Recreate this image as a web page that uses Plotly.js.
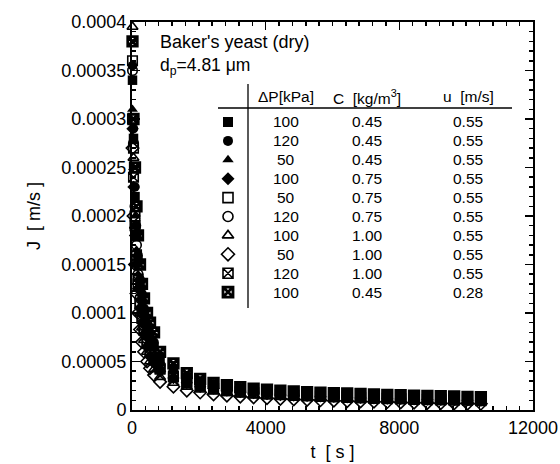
<!DOCTYPE html>
<html>
<head>
<meta charset="utf-8">
<script src="https://cdn.plot.ly/plotly-3.0.1.min.js"></script>
<style>html,body{margin:0;padding:0;background:#fff;}#chart{width:560px;height:464px;}</style>
</head>
<body>
<div id="chart"></div>
<script>
// time points [s]
const tEarly = [15, 45, 90, 135, 180, 240, 300, 360, 450, 540, 660];
const tLate = [840, 1240, 1640, 2040, 2440, 2840, 3240, 3640, 4040, 4440, 4840, 5240, 5640, 6040, 6440, 6840, 7240, 7640, 8040, 8440, 8840, 9240, 9640, 10040, 10440];

// flux values in units of 1e-5 m/s
const s1Early = [34, 28, 22, 18, 15.5, 13, 11.5, 10, 8.5, 7.5, 6.5];
const s1Late = [5.2, 4.2, 3.4, 2.9, 2.6, 2.4, 2.2, 2.1, 2.0, 1.9, 1.8, 1.75, 1.7, 1.65, 1.6, 1.55, 1.5, 1.45, 1.42, 1.4, 1.37, 1.34, 1.3, 1.28, 1.25];
const s2Early = [35.5, 29, 23, 19, 16, 13.5, 12, 10.5, 9, 8, 7];
const s2Late = [5.6, 4.4, 3.5, 3.0, 2.7, 2.5, 2.3, 2.2, 2.1, 2.0, 1.9, 1.85, 1.8, 1.75, 1.7, 1.65, 1.6, 1.55, 1.5, 1.48, 1.45, 1.42, 1.4, 1.37, 1.35];
const s3Early = [31, 25, 20, 16.5, 14, 12, 10.5, 9, 7.5, 6.5, 5.5];
const s3Late = [4.5, 3.6, 3.0, 2.6, 2.3, 2.1, 1.95, 1.85, 1.75, 1.65, 1.6, 1.55, 1.5, 1.45, 1.4, 1.35, 1.3, 1.27, 1.24, 1.2, 1.17, 1.14, 1.12, 1.1, 1.08];
const s4Early = [29, 23, 18, 15, 12.5, 10.5, 9, 7.8, 6.5, 5.5, 4.8];
const s4Late = [4.0, 3.3, 2.8, 2.4, 2.2, 2.0, 1.85, 1.75, 1.65, 1.55, 1.5, 1.45, 1.4, 1.35, 1.3, 1.25, 1.2, 1.17, 1.14, 1.1, 1.07, 1.04, 1.02, 1.0, 0.98];
const s5Early = [36, 27, 20, 16, 13.5, 11, 9.5, 8.2, 7, 6, 5.2];
const s5Late = [4.2, 3.4, 2.8, 2.45, 2.2, 2.0, 1.85, 1.75, 1.65, 1.57, 1.5, 1.45, 1.4, 1.35, 1.3, 1.25, 1.2, 1.17, 1.14, 1.1, 1.07, 1.04, 1.02, 1.0, 0.97];
const s6Early = [35, 27.5, 21, 17, 14, 11.5, 10, 8.7, 7.3, 6.3, 5.5];
const s6Late = [4.6, 3.7, 3.0, 2.6, 2.35, 2.15, 2.0, 1.9, 1.8, 1.7, 1.63, 1.57, 1.52, 1.47, 1.42, 1.37, 1.33, 1.29, 1.26, 1.22, 1.19, 1.16, 1.14, 1.12, 1.1];
const s7Early = [39.5, 26, 19, 15, 12.5, 10, 8.5, 7.2, 6, 5, 4.2];
const s7Late = [3.4, 2.8, 2.4, 2.1, 1.9, 1.75, 1.6, 1.5, 1.42, 1.35, 1.3, 1.25, 1.2, 1.15, 1.1, 1.06, 1.02, 0.98, 0.95, 0.92, 0.9, 0.87, 0.85, 0.83, 0.8];
const s8Early = [27, 20, 15, 12, 10, 8.3, 7, 6, 5, 4.3, 3.6];
const s8Late = [2.9, 2.4, 2.0, 1.8, 1.6, 1.48, 1.38, 1.3, 1.22, 1.15, 1.1, 1.05, 1.0, 0.96, 0.92, 0.88, 0.85, 0.82, 0.79, 0.76, 0.73, 0.7, 0.68, 0.66, 0.64];
const s9Early = [30, 24, 19, 15.5, 13, 11, 9.5, 8.3, 7, 6, 5.2];
const s9Late = [4.3, 3.5, 2.9, 2.5, 2.25, 2.05, 1.9, 1.8, 1.7, 1.62, 1.55, 1.5, 1.45, 1.4, 1.35, 1.3, 1.26, 1.22, 1.18, 1.15, 1.12, 1.09, 1.06, 1.04, 1.02];
const s10Early = [38, 30, 25, 21, 18, 15, 13, 11.5, 10, 9, 8];
const s10Late = [6.0, 4.8, 3.8, 3.2, 2.8, 2.55, 2.35, 2.2, 2.1, 2.0, 1.92, 1.85, 1.8, 1.75, 1.7, 1.65, 1.6, 1.56, 1.52, 1.48, 1.45, 1.42, 1.39, 1.36, 1.33];

// legend table
const deltaP = ["100", "120", "50", "100", "50", "120", "100", "50", "120", "100"];
const conc = ["0.45", "0.45", "0.45", "0.75", "0.75", "0.75", "1.00", "1.00", "1.00", "0.45"];
const vel = ["0.55", "0.55", "0.55", "0.55", "0.55", "0.55", "0.55", "0.55", "0.55", "0.28"];
const headers = ["ΔP[kPa]", "C  [kg/m<sup>3</sup>]", "u  [m/s]"];

// axis ticks
const yTickVals = [0, 0.00005, 0.0001, 0.00015, 0.0002, 0.00025, 0.0003, 0.00035, 0.0004];
const yTickText = ["0", "0.00005", "0.0001", "0.00015", "0.0002", "0.00025", "0.0003", "0.00035", "0.0004"];
const xTickVals = [0, 4000, 8000, 12000];
const xTickText = ["0", "4000", "8000", "12000"];

const seriesEarly = [s1Early, s2Early, s3Early, s4Early, s5Early, s6Early, s7Early, s8Early, s9Early, s10Early];
const seriesLate = [s1Late, s2Late, s3Late, s4Late, s5Late, s6Late, s7Late, s8Late, s9Late, s10Late];
const symbols = ["square", "circle", "triangle-up", "diamond", "square-open", "circle-open", "triangle-up-open", "diamond-open", "square-x-open", "square-x-open"];
const lineW = [0, 0, 0, 0, 1.6, 1.6, 1.6, 1.6, 1.6, 2.8];

const FONT = "Liberation Sans, Arial, Helvetica, sans-serif";
const W = 560, H = 464, L = 132, R = 27, T = 22, B = 54;
const pw = W - L - R, ph = H - T - B;
const px = v => (v - L) / pw;
const py = v => (H - B - v) / ph;

const times = tEarly.concat(tLate);
const traces = [];
for (let i = 0; i < 10; i++) {
  const vals = seriesEarly[i].concat(seriesLate[i]).map(v => v * 1e-5);
  traces.push({
    type: "scatter", mode: "markers", x: times, y: vals, showlegend: false,
    cliponaxis: false,
    marker: {symbol: symbols[i], size: 9.5, color: "black", line: {color: "black", width: lineW[i]}}
  });
}
// legend markers on an overlay paper-like axis
const rowTop = 122, rowStep = 18.9;
const legX = [], legY = [];
for (let i = 0; i < 10; i++) { legX.push(px(228)); legY.push(py(rowTop + i * rowStep)); }
for (let i = 0; i < 10; i++) {
  traces.push({
    type: "scatter", mode: "markers", x: [legX[i]], y: [legY[i]], xaxis: "x2", yaxis: "y2",
    showlegend: false, cliponaxis: false, hoverinfo: "skip",
    marker: {symbol: symbols[i], size: 10, color: "black", line: {color: "black", width: lineW[i]}}
  });
}

const annotations = [];
const tf = {family: FONT, size: 15.5, color: "black"};
const colX = [286, 367, 468];
const headY = 97;
headers.forEach((h, j) => annotations.push({xref: "paper", yref: "paper", x: px(colX[j]), y: py(headY), text: h, showarrow: false, xanchor: "center", yanchor: "middle", font: tf}));
for (let i = 0; i < 10; i++) {
  [deltaP[i], conc[i], vel[i]].forEach((t, j) => annotations.push({xref: "paper", yref: "paper", x: px(colX[j]), y: py(rowTop + i * rowStep), text: t, showarrow: false, xanchor: "center", yanchor: "middle", font: tf}));
}
annotations.push({xref: "paper", yref: "paper", x: px(158), y: py(42), text: "Baker's yeast (dry)", showarrow: false, xanchor: "left", yanchor: "middle", font: {family: FONT, size: 18, color: "black"}});
annotations.push({xref: "paper", yref: "paper", x: px(158), y: py(66), text: "d<sub>p</sub>=4.81 μm", showarrow: false, xanchor: "left", yanchor: "middle", font: {family: FONT, size: 17.5, color: "black"}});

const shapes = [
  {type: "line", xref: "paper", yref: "paper", x0: px(218), x1: px(512), y0: py(108), y1: py(108), line: {color: "black", width: 1.3}},
  {type: "line", xref: "paper", yref: "paper", x0: px(248), x1: px(248), y0: py(84), y1: py(308), line: {color: "black", width: 1.3}}
];

const axisCommon = {
  showline: true, linecolor: "black", linewidth: 2, mirror: "ticks", ticks: "inside", ticklen: 8, tickwidth: 1.5, tickcolor: "black",
  showgrid: false, zeroline: false, tickfont: {family: FONT, size: 18, color: "black"}
};
const layout = {
  width: W, height: H, margin: {l: L, r: R, t: T, b: B}, paper_bgcolor: "white", plot_bgcolor: "white",
  showlegend: false,
  xaxis: Object.assign({}, axisCommon, {range: [0, 12000], tickvals: xTickVals, ticktext: xTickText,
    minor: {dtick: 400, ticks: "inside", ticklen: 4, tickwidth: 1.5, tickcolor: "black", showgrid: false},
    title: {text: "t  [ s ]", font: {family: FONT, size: 18, color: "black"}, standoff: 9}}),
  yaxis: Object.assign({}, axisCommon, {range: [0, 0.0004], tickvals: yTickVals, ticktext: yTickText,
    minor: {dtick: 0.00001, ticks: "inside", ticklen: 4, tickwidth: 1.5, tickcolor: "black", showgrid: false},
    title: {text: "J  [ m/s ]", font: {family: FONT, size: 18, color: "black"}, standoff: 16}}),
  xaxis2: {overlaying: "x", range: [0, 1], visible: false, fixedrange: true},
  yaxis2: {overlaying: "y", range: [0, 1], visible: false, fixedrange: true},
  annotations: annotations, shapes: shapes
};
Plotly.newPlot("chart", traces, layout, {staticPlot: true});
</script>
</body>
</html>
